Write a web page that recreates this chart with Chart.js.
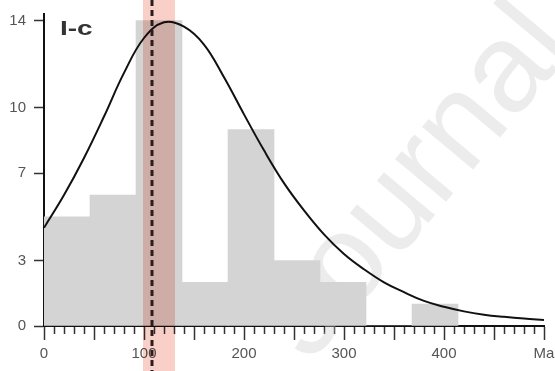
<!DOCTYPE html>
<html>
<head>
<meta charset="utf-8">
<script src="https://cdn.jsdelivr.net/npm/chart.js@4"></script>
<style>
  html, body { margin: 0; padding: 0; background: #fff; }
  #wrap { width: 555px; height: 371px; }
</style>
</head>
<body>
<div id="wrap"><canvas id="chart"></canvas></div>
<script>
// histogram bins (centre of each 46-wide bin) and counts
const binWidth = 46;
const binCenters = [23, 69, 115, 161, 207, 253, 299, 345, 391];
const binCounts = [5, 6, 14, 2, 9, 3, 2, 0, 1];

// fitted density curve
const curveX = [0, 20, 40, 60, 80, 100, 120, 140, 160, 180, 200, 220, 240, 260, 280, 300, 320, 340, 360, 380, 400, 420, 440, 460, 480, 500];
const curveY = [4.5, 6.0, 7.7, 9.6, 11.6, 13.2, 13.92, 13.72, 12.9, 11.4, 9.7, 8.05, 6.55, 5.3, 4.2, 3.3, 2.6, 2.0, 1.55, 1.15, 0.88, 0.67, 0.52, 0.42, 0.34, 0.28];

// axis ticks
const yTickValues = [0, 3, 7, 10, 14];
const xTickValues = [0, 100, 200, 300, 400, 500];
const xTickLabels = ['0', '100', '200', '300', '400', 'Ma'];

// shaded interval and dashed marker
const bandRange = [99, 131];
const markerX = 108;

const FONT = "'Liberation Sans', Arial, sans-serif";

const watermark = {
    id: 'watermark',
    beforeDatasetsDraw(chart) {
        const ctx = chart.ctx;
        ctx.save();
        ctx.translate(310, 364);
        ctx.rotate(-50 * Math.PI / 180);
        ctx.font = '126px ' + FONT;
        ctx.fillStyle = 'rgba(200, 200, 200, 0.34)';
        ctx.fillText('Journal', 0, 0);
        ctx.restore();
    }
};

const bandPlugin = {
    id: 'band',
    afterDraw(chart) {
        const ctx = chart.ctx;
        const x = chart.scales.x;
        const x1 = x.getPixelForValue(bandRange[0]);
        const x2 = x.getPixelForValue(bandRange[1]);
        ctx.save();
        ctx.globalCompositeOperation = 'multiply';
        ctx.fillStyle = 'rgb(248, 208, 200)';
        ctx.fillRect(x1, 0, x2 - x1, chart.height);
        ctx.restore();

        const mx = x.getPixelForValue(markerX);
        ctx.save();
        ctx.strokeStyle = '#2b1d1d';
        ctx.lineWidth = 3;
        ctx.setLineDash([6, 4]);
        ctx.beginPath();
        ctx.moveTo(mx, 0);
        ctx.lineTo(mx, chart.height);
        ctx.stroke();
        ctx.restore();

        // panel label
        ctx.save();
        ctx.fillStyle = '#333';
        ctx.font = 'bold 20px ' + FONT;
        ctx.translate(60, 35);
        ctx.scale(1.4, 1);
        ctx.fillText('I-c', 0, 0);
        ctx.restore();
    }
};

new Chart(document.getElementById('chart'), {
    type: 'bar',
    data: {
        datasets: [
            {
                type: 'line',
                data: curveX.map((v, i) => ({ x: v, y: curveY[i] })),
                borderColor: '#111',
                borderWidth: 2,
                pointRadius: 0,
                tension: 0.4,
                fill: false,
                order: 0
            },
            {
                type: 'bar',
                data: binCenters.map((v, i) => ({ x: v, y: binCounts[i] })),
                backgroundColor: 'rgb(212, 212, 212)',
                borderWidth: 0,
                barThickness: (c) => {
                    const x = c.chart.scales.x;
                    return x ? x.getPixelForValue(binWidth) - x.getPixelForValue(0) : binWidth;
                },
                order: 1
            }
        ]
    },
    options: {
        responsive: true,
        maintainAspectRatio: false,
        animation: false,
        layout: { padding: { top: 14, right: 11, left: 0, bottom: 0 } },
        plugins: { legend: { display: false }, tooltip: { enabled: false } },
        scales: {
            x: {
                type: 'linear',
                min: 0,
                max: 500,
                offset: false,
                border: { color: '#111', width: 2 },
                grid: {
                    drawOnChartArea: false,
                    offset: false,
                    tickLength: 14,
                    tickColor: '#333',
                    tickWidth: 1.5,
                    tickBorderDash: (c) => (c.tick && Math.round(c.tick.value) % 50 === 0) ? [] : [7, 30]
                },
                ticks: {
                    stepSize: 10,
                    autoSkip: false,
                    maxRotation: 0,
                    padding: 5,
                    color: '#555',
                    font: { family: FONT, size: 15 },
                    callback: (v) => {
                        const i = xTickValues.indexOf(Math.round(v));
                        return i >= 0 ? xTickLabels[i] : '';
                    }
                },
                afterFit: (s) => { s.paddingLeft = 0; s.paddingRight = 0; s.height = 45; }
            },
            y: {
                min: 0,
                max: 14.3,
                border: { color: '#111', width: 2 },
                grid: { drawOnChartArea: false, tickLength: 10, tickColor: '#333', tickWidth: 1.5 },
                ticks: {
                    padding: 8,
                    color: '#555',
                    font: { family: FONT, size: 15 }
                },
                afterBuildTicks: (axis) => { axis.ticks = yTickValues.map(v => ({ value: v })); },
                afterFit: (s) => { s.width = 44; s.paddingTop = 0; s.paddingBottom = 0; }
            }
        }
    },
    plugins: [watermark, bandPlugin]
});
</script>
</body>
</html>
